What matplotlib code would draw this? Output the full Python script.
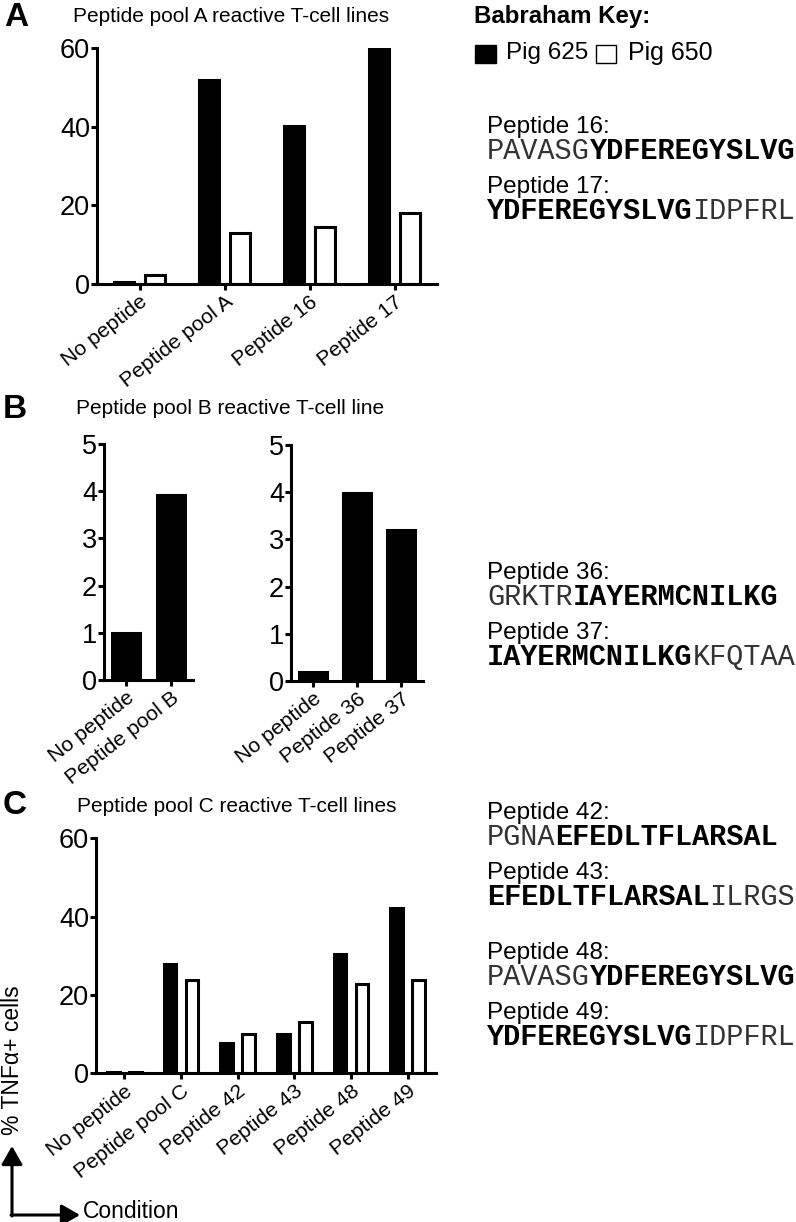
import matplotlib
matplotlib.use("Agg")
import matplotlib.pyplot as plt
from matplotlib.patches import Rectangle, FancyArrowPatch
from matplotlib.text import Annotation
from matplotlib.transforms import ScaledTranslation

plt.rcParams['font.family'] = ['Liberation Sans', 'DejaVu Sans']

W, H = 796, 1222

# ---------------- data ----------------
cats_a = ["No peptide", "Peptide pool A", "Peptide 16", "Peptide 17"]
pig625_a = [0.6, 51.9, 40.3, 60.0]
pig650_a = [2.2, 12.9, 14.4, 18.2]

cats_b1 = ["No peptide", "Peptide pool B"]
vals_b1 = [0.99, 3.92]
cats_b2 = ["No peptide", "Peptide 36", "Peptide 37"]
vals_b2 = [0.2, 3.98, 3.2]

cats_c = ["No peptide", "Peptide pool C", "Peptide 42", "Peptide 43", "Peptide 48", "Peptide 49"]
pig625_c = [0.4, 27.9, 7.8, 10.0, 30.5, 42.3]
pig650_c = [0.3, 23.8, 10.0, 13.2, 22.8, 23.8]

yticks_ac = [0, 20, 40, 60]
yticks_b = [0, 1, 2, 3, 4, 5]

legend_labels = ["Pig 625", "Pig 650"]

# peptide sequences: (label, [(segment, bold), ...])
seqs_a = [("Peptide 16:", [("PAVASG", False), ("YDFEREGYSLVG", True)]),
          ("Peptide 17:", [("YDFEREGYSLVG", True), ("IDPFRL", False)])]
seqs_b = [("Peptide 36:", [("GRKTR", False), ("IAYERMCNILKG", True)]),
          ("Peptide 37:", [("IAYERMCNILKG", True), ("KFQTAA", False)])]
seqs_c1 = [("Peptide 42:", [("PGNA", False), ("EFEDLTFLARSAL", True)]),
           ("Peptide 43:", [("EFEDLTFLARSAL", True), ("ILRGS", False)])]
seqs_c2 = [("Peptide 48:", [("PAVASG", False), ("YDFEREGYSLVG", True)]),
           ("Peptide 49:", [("YDFEREGYSLVG", True), ("IDPFRL", False)])]

# ---------------- figure ----------------
fig = plt.figure(figsize=(W / 100, H / 100), dpi=100)


def axes_px(left, top, right, bottom):
    return fig.add_axes([left / W, 1 - bottom / H, (right - left) / W, (bottom - top) / H])


def fx(x):
    return x / W


def fy(y):
    return 1 - y / H


LW = 2.2
TICK_FS = 19.5
XT_FS = 15.3
XT_ROT = 38


def style(ax, cats, yticks, ymax):
    for s in ["top", "right"]:
        ax.spines[s].set_visible(False)
    for s in ["left", "bottom"]:
        ax.spines[s].set_linewidth(LW)
    ax.set_xticks(range(len(cats)))
    ax.set_xticklabels(cats, rotation=XT_ROT, ha="right", va="top",
                       rotation_mode="anchor", fontsize=XT_FS)
    shift = ScaledTranslation(5 / 100, 0, fig.dpi_scale_trans)
    for lab in ax.get_xticklabels():
        lab.set_transform(lab.get_transform() + shift)
    ax.set_yticks(yticks)
    ax.set_yticklabels([str(t) for t in yticks], fontsize=TICK_FS)
    ax.set_xlim(-0.5, len(cats) - 0.5)
    ax.set_ylim(0, ymax)
    ax.tick_params(axis="both", width=LW, length=4, pad=1)
    ax.tick_params(axis="x", length=4, pad=2)


def grouped(ax, cats, v1, v2, width, off):
    x = list(range(len(cats)))
    ax.bar([i - off for i in x], v1, width, color="black", edgecolor="black", linewidth=LW, zorder=2)
    ax.bar([i + off for i in x], v2, width, color="white", edgecolor="black", linewidth=LW, zorder=2)


# Panel A
axA = axes_px(97, 48.3, 437, 284)
grouped(axA, cats_a, pig625_a, pig650_a, 0.235, 0.185)
style(axA, cats_a, yticks_ac, 60)

# Panel B
axB1 = axes_px(104, 444, 193, 680)
axB1.bar(range(len(cats_b1)), vals_b1, 0.63, color="black", edgecolor="black", linewidth=LW, zorder=2)
style(axB1, cats_b1, yticks_b, 5)
axB2 = axes_px(291, 445, 423, 681)
axB2.bar(range(len(cats_b2)), vals_b2, 0.62, color="black", edgecolor="black", linewidth=LW, zorder=2)
style(axB2, cats_b2, yticks_b, 5)

# Panel C
axC = axes_px(96, 838.3, 436, 1073.3)
grouped(axC, cats_c, pig625_c, pig650_c, 0.22, 0.195)
style(axC, cats_c, yticks_ac, 60)

# Panel letters and titles
for letter, (x, y) in zip("ABC", [(16, 17), (15, 409), (15, 806)]):
    fig.text(fx(x), fy(y), letter, fontsize=24, fontweight="bold", ha="center", va="center")
fig.text(fx(73), fy(17), "Peptide pool A reactive T-cell lines", fontsize=15, va="center")
fig.text(fx(76), fy(409), "Peptide pool B reactive T-cell line", fontsize=15, va="center")
fig.text(fx(77), fy(806), "Peptide pool C reactive T-cell lines", fontsize=15, va="center")

# Legend
fig.text(fx(474), fy(17), "Babraham Key:", fontsize=17.3, fontweight="bold", va="center")
fig.patches.append(Rectangle((fx(475), fy(63)), 21 / W, 18 / H, transform=fig.transFigure,
                             facecolor="black", edgecolor="black", linewidth=1))
fig.text(fx(506), fy(53), legend_labels[0], fontsize=17.5, va="center")
fig.patches.append(Rectangle((fx(596), fy(63)), 20 / W, 18 / H, transform=fig.transFigure,
                             facecolor="white", edgecolor="black", linewidth=1))
fig.text(fx(628), fy(53), legend_labels[1], fontsize=18, va="center")


# Sequences
def seq_block(items, y0):
    y = y0
    for label, segs in items:
        fig.text(fx(487), fy(y), label, fontsize=17.5, va="center")
        prev = None
        for seg, bold in segs:
            kw = dict(fontsize=20.6, family="Liberation Mono",
                      fontweight="bold" if bold else "normal",
                      color="black" if bold else "#333333")
            if prev is None:
                prev = fig.text(fx(487), fy(y + 24), seg, va="center", ha="left", **kw)
            else:
                prev = fig.add_artist(Annotation(seg, xy=(1, 0), xycoords=prev,
                                                 ha="left", va="bottom", **kw))
        y += 60


seq_block(seqs_a, 127)
seq_block(seqs_b, 573)
seq_block(seqs_c1, 813)
seq_block(seqs_c2, 953)

# axis legend arrows
fig.text(fx(13), fy(1060), "% TNF\u03b1+ cells", fontsize=16.5, rotation=90, ha="center", va="center")
fig.add_artist(FancyArrowPatch((fx(12), fy(1216)), (fx(12), fy(1146)),
                               transform=fig.transFigure, arrowstyle="-|>,head_length=7,head_width=4",
                               mutation_scale=1.6, linewidth=2.2, color="black", shrinkA=0, shrinkB=0))
fig.add_artist(FancyArrowPatch((fx(11), fy(1215)), (fx(80), fy(1215)),
                               transform=fig.transFigure, arrowstyle="-|>,head_length=7,head_width=4",
                               mutation_scale=1.6, linewidth=2.2, color="black", shrinkA=0, shrinkB=0))
fig.text(fx(83), fy(1211), "Condition", fontsize=16.5, va="center")

fig.savefig("out.png", dpi=100)
